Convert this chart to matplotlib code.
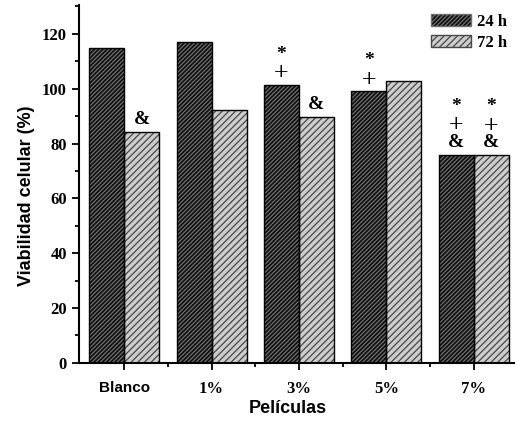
import matplotlib
matplotlib.use("Agg")
import matplotlib.pyplot as plt
import numpy as np

# data
peliculas = ["Blanco", "1%", "3%", "5%", "7%"]
viab_24h = [115.0, 116.9, 101.5, 99.0, 75.9]
viab_72h = [84.2, 92.2, 89.7, 102.7, 75.7]
marks_24h = ["", "", "*\n+", "*\n+", "*\n+\n&"]
marks_72h = ["&", "", "&", "", "*\n+\n&"]

serif = "Liberation Serif"
sans = "Liberation Sans"
plt.rcParams["hatch.linewidth"] = 0.9

fig = plt.figure(figsize=(5.15, 4.21), dpi=100)
ax = fig.add_axes([0.153, 0.138, 0.845, 0.850])

x = np.arange(len(peliculas))
w = 0.4
b1 = ax.bar(x - w / 2, viab_24h, w, color="#0e0e0e", edgecolor="#707070",
            hatch="/" * 8, linewidth=0, label="24 h")
b2 = ax.bar(x + w / 2, viab_72h, w, color="#cdcdcd", edgecolor="#474747",
            hatch="/" * 5, linewidth=0, label="72 h")
# outlines
for bars in (b1, b2):
    for r in bars:
        ax.add_patch(plt.Rectangle(r.get_xy(), r.get_width(), r.get_height(),
                                   fill=False, edgecolor="black", lw=1.0))


def stack(xpos, h, txt):
    lines = [t for t in txt.split("\n") if t]
    for i, t in enumerate(reversed(lines)):
        if t == "+":
            kw = dict(fontsize=14, fontweight="normal", family="DejaVu Serif")
        else:
            kw = dict(fontsize=14, fontweight="bold", family=serif)
        ax.annotate(t, (xpos, h), xytext=(0, 9 + 13 * i), textcoords="offset points",
                    ha="center", va="center", **kw)


for i in range(len(peliculas)):
    stack(x[i] - w / 2, viab_24h[i], marks_24h[i])
    stack(x[i] + w / 2, viab_72h[i], marks_72h[i])

ax.set_xlim(-0.52, 4.46)
ax.set_ylim(0, 130.5)
ax.set_yticks(np.arange(0, 121, 20))
ax.set_yticks(np.arange(10, 131, 20), minor=True)
ax.set_xticks(x)
ax.set_xticks(x[:-1] + 0.5, minor=True)
ax.set_xticklabels(peliculas)

for lab in ax.get_xticklabels() + ax.get_yticklabels():
    lab.set_fontfamily(serif)
    lab.set_fontweight("bold")
    lab.set_fontsize(12)
ax.get_xticklabels()[0].set_fontfamily(sans)
ax.get_xticklabels()[0].set_fontsize(11)

ax.tick_params(axis="both", which="major", direction="out", length=5, width=1.3)
ax.tick_params(axis="both", which="minor", direction="out", length=3, width=1.3)
ax.tick_params(axis="x", pad=8)
for s in ("top", "right"):
    ax.spines[s].set_visible(False)
for s in ("left", "bottom"):
    ax.spines[s].set_linewidth(1.5)

ax.set_ylabel("Viabilidad celular (%)", family=sans, fontweight="bold", fontsize=13)
ax.set_xlabel("Películas", family=sans, fontweight="bold", fontsize=13)
ax.yaxis.set_label_coords(-0.1, 0.466)
ax.xaxis.set_label_coords(0.48, -0.103)

leg = ax.legend(loc="upper right", bbox_to_anchor=(1.0, 0.995), frameon=False,
                prop={"family": serif, "weight": "bold", "size": 12},
                handlelength=2.4, handleheight=0.7, handletextpad=0.4,
                labelspacing=0.3, borderaxespad=0.0)
for p in leg.get_patches():
    p.set_linewidth(1.0)

fig.savefig("out.png", dpi=100)
